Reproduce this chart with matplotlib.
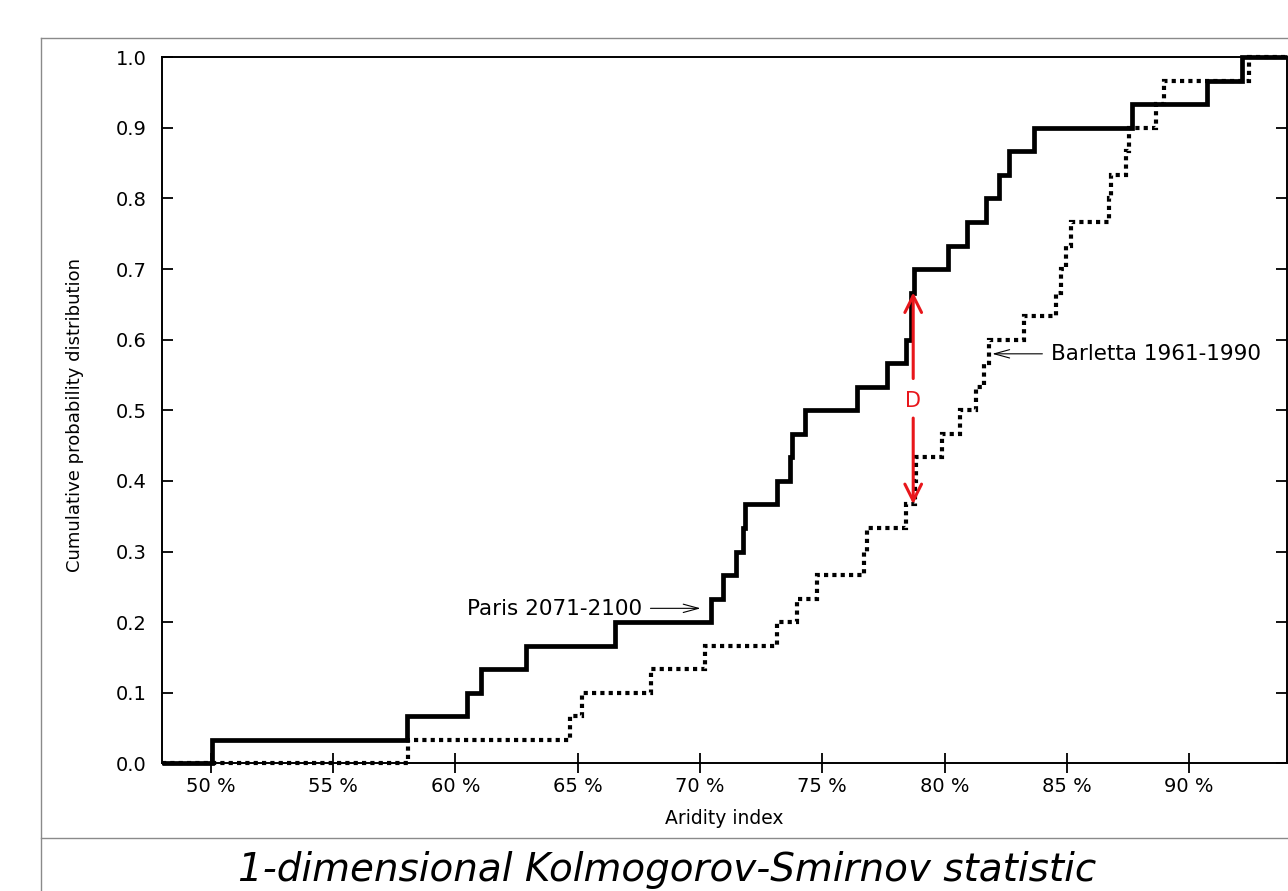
import numpy as np
import matplotlib
matplotlib.use("Agg")
import matplotlib.pyplot as plt
from matplotlib.lines import Line2D

# ---- data (aridity index values, %) ----
paris = [50.07, 58.01, 60.49, 61.04, 62.88, 66.53, 70.44, 70.94, 71.46, 71.76,
         71.85, 73.16, 73.67, 73.78, 74.28, 76.44, 77.66, 78.41, 78.62, 78.64,
         78.76, 80.14, 80.93, 81.68, 82.23, 82.64, 83.66, 87.68, 90.72, 92.17]
barletta = [58.05, 64.68, 65.19, 68.00, 70.20, 73.17, 73.98, 74.80, 76.71, 76.84,
            78.41, 78.78, 78.82, 79.91, 80.62, 81.27, 81.62, 81.82, 83.25, 84.55,
            84.75, 84.95, 85.16, 86.72, 86.80, 87.41, 87.55, 88.65, 88.97, 92.46]
xticks = [50, 55, 60, 65, 70, 75, 80, 85, 90]
xticklabels = ["50 %", "55 %", "60 %", "65 %", "70 %", "75 %", "80 %", "85 %", "90 %"]
yticks = [0.0, 0.1, 0.2, 0.3, 0.4, 0.5, 0.6, 0.7, 0.8, 0.9, 1.0]
xlim = (48, 94)
d_x = 78.72
d_top = 0.667
d_bottom = 0.367

plt.rcParams['font.family'] = ['DejaVu Sans']

W, H = 1288, 891
fig = plt.figure(figsize=(W / 100, H / 100), dpi=100)
ax = fig.add_axes([161.7 / W, 1 - 763.3 / H, (1287 - 161.7) / W, (763.3 - 57.3) / H])


def ecdf_steps(vals):
    v = np.sort(np.asarray(vals, dtype=float))
    n = len(v)
    xs = np.concatenate([[xlim[0]], v, [xlim[1]]])
    ys = np.concatenate([[0.0], np.arange(1, n + 1) / n, [1.0]])
    return xs, ys


bx, by = ecdf_steps(barletta)
px, py = ecdf_steps(paris)

ax.step(bx, by, where='post', color='black', lw=3.0, linestyle=(0, (1, 1)),
        dash_capstyle='butt', dash_joinstyle='miter', clip_on=False, zorder=3)
ax.step(px, py, where='post', color='black', lw=3.4,
        solid_capstyle='butt', solid_joinstyle='miter', clip_on=False, zorder=4)

ax.set_xlim(*xlim)
ax.set_ylim(0, 1)
ax.set_xticks(xticks)
ax.set_xticklabels(xticklabels)
ax.set_yticks(yticks)
ax.set_yticklabels([f"{t:.1f}" for t in yticks])

for s in ax.spines.values():
    s.set_linewidth(1.4)
ax.tick_params(axis='x', direction='inout', length=14.4, width=1.3, pad=3,
               labelsize=14, top=False, bottom=True)
ax.tick_params(axis='y', direction='in', length=8, width=1.3, pad=10.8,
               labelsize=14, left=True, right=True)

# D arrow
red = '#e8161b'
ax.annotate('', xy=(d_x, d_top), xytext=(d_x, 0.545),
            arrowprops=dict(arrowstyle='->,head_length=0.6,head_width=0.3',
                            color=red, lw=2.2, mutation_scale=20,
                            shrinkA=0, shrinkB=0), zorder=6)
ax.annotate('', xy=(d_x, d_bottom), xytext=(d_x, 0.489),
            arrowprops=dict(arrowstyle='->,head_length=0.6,head_width=0.3',
                            color=red, lw=2.2, mutation_scale=20,
                            shrinkA=0, shrinkB=0), zorder=6)
ax.text(d_x, 0.505, 'D', color=red, fontsize=15, ha='center', va='baseline', zorder=6)

# series labels
ax.text(67.63, 0.2103, 'Paris 2071-2100', fontsize=15.5, ha='right', va='baseline')
ax.annotate('', xy=(70.03, 0.2195), xytext=(67.98, 0.2195),
            arrowprops=dict(arrowstyle='->,head_length=1.1,head_width=0.3',
                            color='black', lw=0.8, mutation_scale=10,
                            shrinkA=0, shrinkB=0))
ax.text(84.34, 0.571, 'Barletta 1961-1990', fontsize=15.5, ha='left', va='baseline')
ax.annotate('', xy=(81.95, 0.580), xytext=(84.0, 0.580),
            arrowprops=dict(arrowstyle='->,head_length=1.1,head_width=0.3',
                            color='black', lw=0.8, mutation_scale=10,
                            shrinkA=0, shrinkB=0))

# axis labels
fig.text(75 / W, 1 - 415 / H, 'Cumulative probability distribution', rotation=90,
         ha='center', va='center', fontsize=13)
fig.text(724 / W, 1 - 818 / H, 'Aridity index', ha='center', va='center', fontsize=13.5)

# outer frame (slide-like)
gray = '#8a8a8a'
fx0 = 40.7 / W
fy_top = 1 - 37.7 / H
fy_sep = 1 - 837.7 / H
fig.add_artist(Line2D([fx0, 1.0], [fy_top, fy_top], color=gray, lw=1.0, transform=fig.transFigure))
fig.add_artist(Line2D([fx0, fx0], [0.0, fy_top], color=gray, lw=1.0, transform=fig.transFigure))
fig.add_artist(Line2D([fx0, 1.0], [fy_sep, fy_sep], color=gray, lw=1.0, transform=fig.transFigure))

# caption
fig.text(667 / W, 1 - 881 / H, '1-dimensional Kolmogorov-Smirnov statistic',
         ha='center', va='baseline', fontsize=28, style='italic')

fig.savefig('out.png', dpi=100)
